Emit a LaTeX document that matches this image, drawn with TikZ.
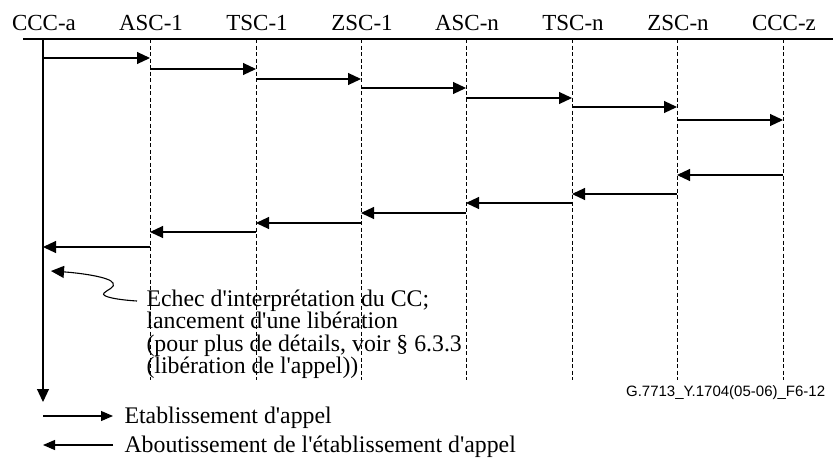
\documentclass[tikz,border=0pt]{standalone}
\usepackage{fontspec}
\setmainfont{Liberation Serif}
\newfontfamily\figsans{Liberation Sans}
\usetikzlibrary{arrows.meta,positioning}

\newcommand{\q}{\textquotesingle}

\begin{document}
\begin{tikzpicture}[
            x=1pt,y=-1pt,
            line width=1.1pt,
            font=\fontsize{23.8}{22.5}\selectfont,
            msg/.style={-{Triangle[length=13pt,width=12pt]}},
            legarrow/.style={-{Triangle[length=12pt,width=10pt]}},
            lifeline/.style={dash pattern=on 4pt off 2.5pt,line width=0.9pt}
        ]
            \useasboundingbox (0,0) rectangle (833,466);

            \begin{scope}[
                every node/.style={anchor=base,inner sep=0pt,font=\fontsize{23}{23}\selectfont}
            ]
                \node (ca) at (44,30)  {CCC-a};
                \node (a1) at (151,30) {ASC-1};
                \node (t1) at (257,30) {TSC-1};
                \node (z1) at (362,30) {ZSC-1};
                \node (an) at (467,30) {ASC-n};
                \node (tn) at (573,30) {TSC-n};
                \node (zn) at (678,30) {ZSC-n};
                \node (cz) at (784,30) {CCC-z};
            \end{scope}
            \coordinate (top) at (0,39);
            \coordinate (bot) at (0,380);
            \draw (23,39) -- (833,39);
            \draw [-{Triangle[length=13pt,width=12pt]}] ([xshift=-1pt]ca |- top) -- ([xshift=-1pt]ca |- 0,402);
            \foreach \n in {a1,t1,z1,an,tn,zn,cz}
                \draw [lifeline] ([xshift=-1pt]\n |- top) -- ([xshift=-1pt]\n |- bot);

            \foreach \from/\to/\y in {ca/a1/58, a1/t1/69, t1/z1/79, z1/an/88,
                                      an/tn/98, tn/zn/107, zn/cz/120}
                \draw [msg] ([xshift=-1pt]\from |- 0,\y) -- ([xshift=-1pt]\to |- 0,\y);
            \foreach \from/\to/\y in {cz/zn/175, zn/tn/194, tn/an/203, an/z1/213,
                                      z1/t1/223, t1/a1/232, a1/ca/247}
                \draw [msg] ([xshift=-1pt]\from |- 0,\y) -- ([xshift=-1pt]\to |- 0,\y);

            \node (fail) [anchor=base west,align=left,inner sep=0pt] at (146,373.5)
                {Echec d\q interprétation du CC;\\
                 lancement d\q une libération\\
                 (pour plus de détails, voir § 6.3.3\\
                 (libération de l\q appel))};
            \coordinate (hook) at ([xshift=-9pt,yshift=72.5pt]fail.base west);
            \coordinate (stop) at (51,271);
            \draw [msg] (hook) .. controls (120,300) and (100,297) .. (104,293)
                .. controls (107,290) and (116,287) .. (113,283)
                .. controls (110,277) and (80,273) .. (stop);

            \node (ident) [anchor=east,font=\figsans\fontsize{15}{15}\selectfont] at (829,393)
                {G.7713\_Y.1704(05-06)\_F6-12};

            \node (leg1) [anchor=base west,inner sep=0pt] at (124,423) {Etablissement d\q appel};
            \node (leg2) [anchor=base west,inner sep=0pt] at (124,452) {Aboutissement de l\q établissement d\q appel};
            \coordinate (l1) at (43,416);
            \coordinate (l2) at (43,445);
            \draw [legarrow] (l1) -- ([xshift=-11pt]leg1.west |- l1);
            \draw [legarrow] ([xshift=-11pt]leg2.west |- l2) -- (l2);
        \end{tikzpicture}
\end{document}
